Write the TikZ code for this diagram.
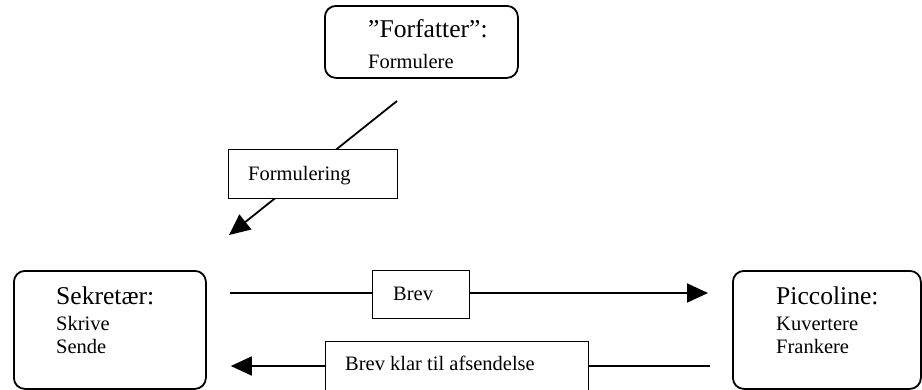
\documentclass[tikz,border=0pt]{standalone}
\usepackage{fontspec}
\setmainfont{Liberation Serif}
\usetikzlibrary{arrows.meta}
\begin{document}
\begin{tikzpicture}[x=1pt,y=-1pt,
  actor/.style={draw, line width=1.8pt, rounded corners=11pt, inner sep=0pt, anchor=north west},
  lbl/.style={draw, line width=1.4pt, fill=white, inner sep=0pt, anchor=north west},
  big/.style={font=\fontsize{25.6}{30}\selectfont, anchor=base west, inner sep=0pt},
  small/.style={font=\fontsize{20.5}{24}\selectfont, anchor=base west, inner sep=0pt},
  flow/.style={line width=1.8pt, -{Triangle[length=21pt,width=19pt]}}]
\useasboundingbox (0,0) rectangle (922,389);

% actors
\node[actor, minimum width=193pt, minimum height=72pt] (forf) at (324,5) {};
\node[actor, minimum width=192pt, minimum height=118pt] (sek) at (13,270) {};
\node[actor, minimum width=188pt, minimum height=118pt] (pic) at (732,270) {};

\node[big]   (forfT) at (368,37) {”Forfatter”:};
\node[small] (forfA) at (368,68) {Formulere};

\node[big]   (sekT)  at (56,304) {Sekretær:};
\node[small] (sekA)  at (56,330) {Skrive};
\node[small] (sekB)  at (56,353) {Sende};

\node[big]   (picT)  at (776,304) {Piccoline:};
\node[small] (picA)  at (776,330) {Kuvertere};
\node[small] (picB)  at (776,353) {Frankere};

% flows
\coordinate (dstart) at (397,101);
\coordinate (dend)   at (229,235);
\draw[flow] (dstart) -- (dend);

\coordinate (brevy) at (0,293);
\draw[flow, shorten <=23pt, shorten >=24pt] (sek.east |- brevy) -- (pic.west |- brevy);

\coordinate (klary) at (0,366);
\draw[flow, shorten <=22pt, shorten >=24pt] (pic.west |- klary) -- (sek.east |- klary);

% flow labels
\node[lbl, minimum width=169pt, minimum height=49pt] (formB) at (228,149) {};
\node[small] (formL) at (248,180) {Formulering};

\node[lbl, minimum width=97pt, minimum height=48pt] (brevB) at (372,270) {};
\node[small] (brevL) at (393,300) {Brev};

\node[lbl, minimum width=263pt, minimum height=52pt] (klarB) at (325,341) {};
\node[small] (klarL) at (345,370) {Brev klar til afsendelse};
\end{tikzpicture}
\end{document}
